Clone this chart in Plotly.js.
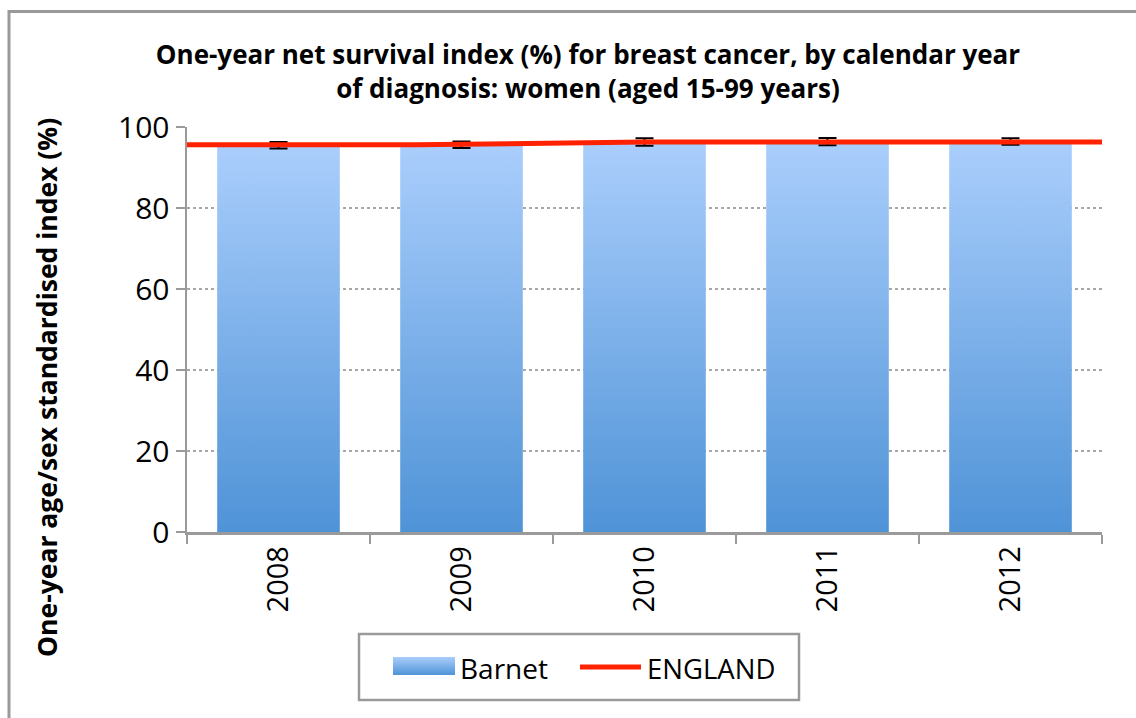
<!DOCTYPE html>
<html>
<head>
<meta charset="utf-8">
<script src="https://cdn.plot.ly/plotly-3.0.1.min.js"></script>
<style>html,body{margin:0;padding:0;background:#fff;}#chart{width:1136px;height:718px;}</style>
</head>
<body>
<div id="chart"></div>
<script>
const years = ["2008", "2009", "2010", "2011", "2012"];
const barnet = [95.5, 95.6, 96.3, 96.4, 96.4];
const barnetErr = [0.8, 0.8, 0.9, 0.9, 0.8];
const england = [95.6, 95.6, 96.3, 96.3, 96.3];
const seriesNames = ["Barnet", "ENGLAND"];
const titleText = "One-year net survival index (%) for breast cancer, by calendar year<br>of diagnosis: women (aged 15-99 years)";
const yTitleText = "One-year age/sex standardised index (%)";

const W = 1136, H = 718;
const L = 187, R = 34, T = 127, B = 186;
const PW = W - L - R, PH = H - T - B;
const px = v => (v - L) / PW;
const py = v => (H - B - v) / PH;
const FONT = "Open Sans, Liberation Sans, sans-serif";

const traces = [
  {
    type: "bar", x: years, y: barnet, name: seriesNames[0],
    marker: {color: "#7fb2ea", line: {width: 0}},
    width: 0.67,
    error_y: {type: "data", array: barnetErr, visible: true, color: "#000", thickness: 2, width: 9},
    showlegend: false, hoverinfo: "x+y"
  },
  {
    type: "scatter", mode: "lines", x: years, y: england, name: seriesNames[1],
    xaxis: "x2", yaxis: "y",
    line: {color: "#ff2200", width: 5},
    showlegend: false
  }
];

const layout = {
  width: W, height: H,
  margin: {l: L, r: R, t: T, b: B, pad: 0},
  paper_bgcolor: "#fff", plot_bgcolor: "#fff",
  font: {family: FONT, color: "#000", size: 29},
  title: {
    text: "<b>" + titleText + "</b>",
    font: {family: FONT, size: 26, color: "#000"},
    xref: "container", yref: "container",
    x: 588 / W, xanchor: "center",
    y: 1 - 64 / H, yanchor: "top"
  },
  bargap: 0.33,
  xaxis: {
    type: "category", categoryorder: "array", categoryarray: years,
    showline: true, linecolor: "#9a9a9a", linewidth: 2.5,
    ticks: "outside", tickson: "boundaries", ticklen: 9, tickwidth: 2.5, tickcolor: "#9a9a9a",
    tickangle: -90, tickfont: {family: FONT, size: 29, color: "#000"},
    showgrid: false, zeroline: false, fixedrange: true
  },
  xaxis2: {
    type: "category", categoryorder: "array", categoryarray: years,
    overlaying: "x", range: [0, 4], visible: false, fixedrange: true
  },
  yaxis: {
    range: [0, 100], dtick: 20, tick0: 0,
    showline: true, linecolor: "#9a9a9a", linewidth: 2.5,
    ticks: "outside", ticklen: 9, tickwidth: 2.5, tickcolor: "#9a9a9a",
    tickfont: {family: FONT, size: 30, color: "#000"},
    showgrid: true, gridcolor: "#a8a8a8", gridwidth: 2, griddash: "dot",
    zeroline: false, fixedrange: true
  },
  shapes: [
    {type: "rect", xref: "paper", yref: "paper", x0: px(9), x1: px(W + 10), y0: py(H + 10), y1: py(11.5),
     line: {color: "#9a9a9a", width: 3}, fillcolor: "rgba(0,0,0,0)", layer: "below"},
    {type: "rect", xref: "paper", yref: "paper", x0: px(359), x1: px(799), y0: py(700), y1: py(634),
     line: {color: "#9a9a9a", width: 2.5}, fillcolor: "rgba(0,0,0,0)"},
    {type: "rect", xref: "paper", yref: "paper", x0: px(393), x1: px(455), y0: py(675), y1: py(657),
     line: {width: 0}, fillcolor: "#7fb2ea"},
    {type: "line", xref: "paper", yref: "paper", x0: px(580), x1: px(641), y0: py(667), y1: py(667),
     line: {color: "#ff2200", width: 5}}
  ],
  annotations: [
    {text: "<b>" + yTitleText + "</b>", textangle: -90, xref: "paper", yref: "paper",
     x: px(47), y: py(388), xanchor: "center", yanchor: "middle", showarrow: false,
     font: {family: FONT, size: 26.5, color: "#000"}},
    {text: seriesNames[0], xref: "paper", yref: "paper", x: px(458), y: py(668),
     xanchor: "left", yanchor: "middle", showarrow: false, font: {family: FONT, size: 28, color: "#000"}},
    {text: seriesNames[1], xref: "paper", yref: "paper", x: px(645), y: py(668),
     xanchor: "left", yanchor: "middle", showarrow: false, font: {family: FONT, size: 27.5, color: "#000"}}
  ]
};

Plotly.newPlot("chart", traces, layout, {displayModeBar: false, staticPlot: true}).then(gd => {
  const svg = gd.querySelector("svg.main-svg");
  const ns = "http://www.w3.org/2000/svg";
  let defs = svg.querySelector("defs");
  if (!defs) { defs = document.createElementNS(ns, "defs"); svg.insertBefore(defs, svg.firstChild); }
  const grad = document.createElementNS(ns, "linearGradient");
  grad.setAttribute("id", "barGrad");
  grad.setAttribute("x1", "0"); grad.setAttribute("y1", "0");
  grad.setAttribute("x2", "0"); grad.setAttribute("y2", "1");
  [["0", "#aacefc"], ["1", "#4f93d7"]].forEach(([o, c]) => {
    const s = document.createElementNS(ns, "stop");
    s.setAttribute("offset", o); s.setAttribute("stop-color", c);
    grad.appendChild(s);
  });
  defs.appendChild(grad);
  gd.querySelectorAll(".barlayer .point path").forEach(p => { p.style.fill = "url(#barGrad)"; });
  gd.querySelectorAll(".shapelayer path").forEach(p => {
    if ((p.style.fill || "").replace(/\s/g, "") === "rgb(127,178,234)") p.style.fill = "url(#barGrad)";
  });
});
</script>
</body>
</html>
